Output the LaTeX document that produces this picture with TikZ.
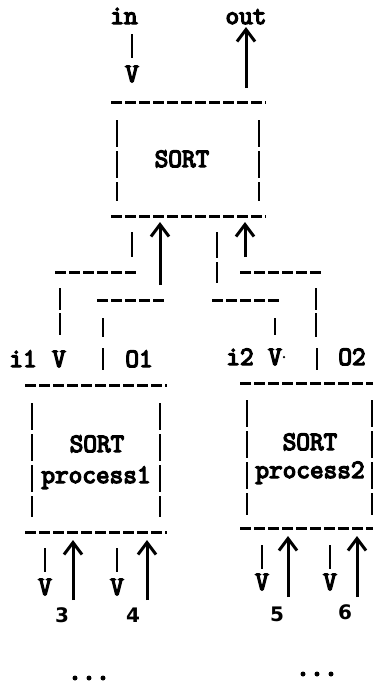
\documentclass[tikz,border=0pt]{standalone}
\usepackage{fontspec}
\newfontfamily\twfont{Latin Modern Mono}[FakeBold=5]
\newfontfamily\digitfont{DejaVu Sans}
\usetikzlibrary{arrows.meta}
\begin{document}
\begin{tikzpicture}[x=1pt,y=-1pt,
  tw/.style={font=\twfont\fontsize{26.5}{30}\selectfont,inner sep=0pt,anchor=base},
  dg/.style={font=\digitfont\bfseries\fontsize{20}{24}\selectfont,inner sep=0pt,anchor=base},
  hline/.style={line width=3pt,dash pattern=on 11pt off 3pt},
  bar/.style={line width=2.6pt},
  boxside/.style={line width=2.6pt,dash pattern=on 27pt off 4pt},
  up/.style={line width=3pt,-{Straight Barb[length=12pt,width=18pt]}},
  dot/.style={circle,fill,inner sep=0pt,minimum size=5pt}]
\useasboundingbox (0,0) rectangle (373,681);

% ---- top: in / out ----
\node[tw] (in) at (124,24) {in};
\node[tw] (out) at (246,24) {out};
\draw[bar] (132,34) -- (132,58);
\node[tw] (inV) at (132,82) {V};
\coordinate (outB) at (246,88);
\coordinate (outT) at (246,27);
\draw[up] (outB) -- (outT);

% ---- SORT box ----
\draw[hline] (111,102) -- (266,102);
\draw[boxside] (117,120) -- (117,201);
\draw[boxside] (259,120) -- (259,201);
\node[tw] (sort) at (182,167) {SORT};
\draw[hline] (111,216) -- (266,216);

% ---- splitting / merging wires ----
\draw[bar] (132,232) -- (132,257);
\coordinate (m1B) at (160,285);
\coordinate (m1T) at (160,222);
\draw[up] (m1B) -- (m1T);
\draw[bar] (217,232) -- (217,258) (217,262) -- (217,283);
\coordinate (m2B) at (245,257);
\coordinate (m2T) at (245,222);
\draw[up] (m2B) -- (m2T);
\draw[hline] (55,272) -- (137,272);
\draw[hline] (240,272) -- (322,272);
\draw[hline] (97,300) -- (166,300);
\draw[hline] (212,300) -- (280,300);
\draw[bar] (60,288) -- (60,310) (60,313) -- (60,335);
\draw[bar] (103,318) -- (103,337) (103,348) -- (103,370);
\draw[bar] (275,318) -- (275,335);
\draw[bar] (316,288) -- (316,310) (316,313) -- (316,337) (317,348) -- (317,370);

% ---- channel labels ----
\node[tw] (i1) at (23,367) {i1};
\node[tw] (i1V) at (59,367) {V};
\node[tw] (o1) at (139,367) {O1};
\node[tw] (i2) at (240,365) {i2};
\node[tw] (i2V) at (275,365) {V};
\node[dot,minimum size=2.5pt] (i2dot) at (284,357) {};
\node[tw] (o2) at (352,365) {O2};

% ---- SORT process1 ----
\draw[hline] (25,385) -- (167,385);
\draw[boxside] (32,403) -- (32,517);
\draw[boxside] (160,403) -- (160,517);
\node[tw] (p1a) at (97,452) {SORT};
\node[tw] (p1b) at (96,483) {process1};
\draw[hline] (25,532) -- (167,532);

% ---- SORT process2 ----
\draw[hline] (240,383) -- (373,383);
\draw[boxside] (247,400) -- (247,515);
\draw[boxside] (372,400) -- (372,515);
\node[tw] (p2a) at (310,450) {SORT};
\node[tw] (p2b) at (310,478) {process2};
\draw[hline] (240,528) -- (373,528);

% ---- ports below process1 ----
\draw[bar] (45,548) -- (45,572);
\node[tw] (v3) at (45,595) {V};
\coordinate (a3B) at (73,600);
\coordinate (a3T) at (73,540);
\draw[up] (a3B) -- (a3T);
\draw[bar] (117,548) -- (117,572);
\node[tw] (v4) at (117,595) {V};
\coordinate (a4B) at (147,600);
\coordinate (a4T) at (147,540);
\draw[up] (a4B) -- (a4T);
\node[dg] (n3) at (62,622) {3};
\node[dg] (n4) at (133,622) {4};

% ---- ports below process2 ----
\draw[bar] (262,545) -- (262,569);
\node[tw] (v5) at (262,590) {V};
\coordinate (a5B) at (288,597);
\coordinate (a5T) at (288,536);
\draw[up] (a5B) -- (a5T);
\draw[bar] (330,545) -- (330,569);
\node[tw] (v6) at (330,590) {V};
\coordinate (a6B) at (357,597);
\coordinate (a6T) at (357,536);
\draw[up] (a6B) -- (a6T);
\node[dg] (n5) at (277,621) {5};
\node[dg] (n6) at (345,619) {6};

% ---- ellipses ----
\foreach \x [count=\i] in {75,89,103} \node[dot] (ldot\i) at (\x,678) {};
\foreach \x [count=\i] in {303,317,331} \node[dot] (rdot\i) at (\x,674) {};
\end{tikzpicture}
\end{document}
